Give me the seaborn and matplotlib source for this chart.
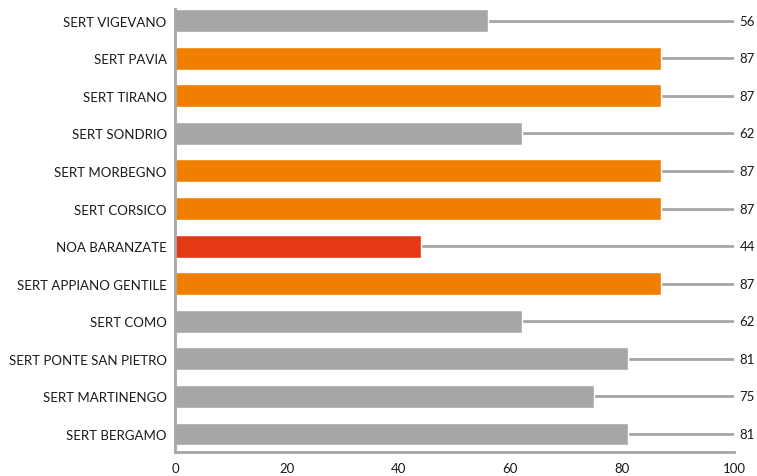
import matplotlib
matplotlib.use("Agg")
import matplotlib.pyplot as plt
import seaborn as sns
import pandas as pd

# Services and their scores (top to bottom)
services = [
    "SERT VIGEVANO", "SERT PAVIA", "SERT TIRANO", "SERT SONDRIO",
    "SERT MORBEGNO", "SERT CORSICO", "NOA BARANZATE", "SERT APPIANO GENTILE",
    "SERT COMO", "SERT PONTE SAN PIETRO", "SERT MARTINENGO", "SERT BERGAMO",
]
scores = [56, 87, 87, 62, 87, 87, 44, 87, 62, 81, 75, 81]
groups = ["base", "high", "high", "base", "high", "high", "low", "high",
          "base", "base", "base", "base"]
group_colors = {"base": "#a6a6a6", "high": "#f07f00", "low": "#e53916"}
x_ticks = [0, 20, 40, 60, 80, 100]

df = pd.DataFrame({"service": services, "score": scores, "group": groups})

sns.set_style("white")
plt.rcParams["font.family"] = ["Lato", "DejaVu Sans"]

fig = plt.figure(figsize=(7.57, 4.77), dpi=100)
ax = fig.add_axes([175 / 757, 24 / 477, (734 - 175) / 757, (453 - 10) / 477])

# guide lines running to the full scale behind each bar
for i, v in enumerate(scores):
    ax.plot([0, 100], [i, i], color="#a6a6a6", lw=2, zorder=1, solid_capstyle="butt")
    ax.text(101, i, str(v), va="center", ha="left", fontsize=9.5, color="#1a1a1a")

sns.barplot(data=df, y="service", x="score", hue="group", palette=group_colors,
            orient="h", width=0.61, dodge=False, legend=False, ax=ax, zorder=2,
            saturation=1)

ax.set_xlim(0, 100)
ax.set_ylim(len(services) - 1 + 0.48, -0.31)
ax.set_xticks(x_ticks)
ax.set_xticklabels([str(t) for t in x_ticks], fontsize=9.5, color="#1a1a1a")
ax.set_xlabel("")
ax.set_ylabel("")
ax.tick_params(axis="y", length=0, pad=6, labelsize=9.5, labelcolor="#1a1a1a")
ax.tick_params(axis="x", direction="inout", length=8, width=1.5, color="#a6a6a6", pad=3)

for side in ["top", "right"]:
    ax.spines[side].set_visible(False)
for side in ["left", "bottom"]:
    ax.spines[side].set_color("#a6a6a6")
    ax.spines[side].set_linewidth(2)
ax.spines["left"].set_bounds(len(services) - 1 + 0.48, -0.305)

fig.savefig("out.png", dpi=100)
